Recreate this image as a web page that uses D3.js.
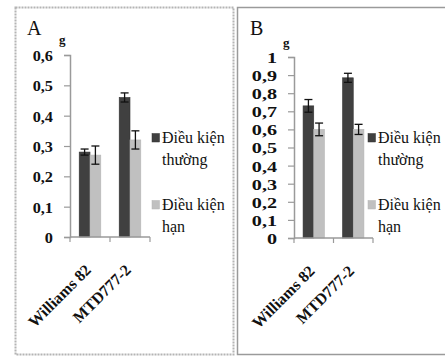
<!DOCTYPE html>
<html>
<head>
<meta charset="utf-8">
<script src="https://cdn.jsdelivr.net/npm/d3@7"></script>
<style>
  html, body { margin: 0; padding: 0; background: #fff; }
  svg { display: block; }
</style>
</head>
<body>
<svg id="chart" width="445" height="358"></svg>
<script>
// ---- data ----
const categories = ["Williams 82", "MTD777-2"];
const seriesKeys = ["normal", "drought"];
const legendLines = [["Điều kiện", "thường"], ["Điều kiện", "hạn"]];
const colors = ["#404040", "#c0c0c0"];

const panelANormal = [0.28, 0.46];
const panelANormalErr = [0.01, 0.015];
const panelADrought = [0.27, 0.32];
const panelADroughtErr = [0.03, 0.03];

const panelBNormal = [0.73, 0.885];
const panelBNormalErr = [0.035, 0.025];
const panelBDrought = [0.60, 0.60];
const panelBDroughtErr = [0.035, 0.028];

const ticksA = [0, 0.1, 0.2, 0.3, 0.4, 0.5, 0.6];
const tickLabelsA = ["0", "0,1", "0,2", "0,3", "0,4", "0,5", "0,6"];
const ticksB = [0, 0.1, 0.2, 0.3, 0.4, 0.5, 0.6, 0.7, 0.8, 0.9, 1];
const tickLabelsB = ["0", "0,1", "0,2", "0,3", "0,4", "0,5", "0,6", "0,7", "0,8", "0,9", "1"];

const FONT = '"Liberation Serif"';
const svg = d3.select("#chart");

// panel frames
svg.append("rect").attr("x", 15.5).attr("y", 7.5).attr("width", 218).attr("height", 347)
  .attr("fill", "none").attr("stroke", "#b4b4b4").attr("stroke-width", 2).attr("stroke-dasharray", "2,1");
svg.append("rect").attr("x", 237.5).attr("y", 7.5).attr("width", 220).attr("height", 347)
  .attr("fill", "none").attr("stroke", "#9a9a9a").attr("stroke-width", 1.5);

function panel(cfg) {
  const g = svg.append("g");
  const x = d3.scaleBand().domain(categories).range([cfg.x0, cfg.x1]).paddingInner(0.46).paddingOuter(0.23);
  const xs = d3.scaleBand().domain(seriesKeys).range([0, x.bandwidth()]);
  const y = d3.scaleLinear().domain([0, cfg.max]).range([cfg.yBottom, cfg.yTop]);

  const series = [
    { key: "normal", vals: cfg.normal, errs: cfg.normalErr },
    { key: "drought", vals: cfg.drought, errs: cfg.droughtErr }
  ];

  // y axis
  const yAxis = d3.axisLeft(y).tickValues(cfg.ticks).tickSize(6).tickFormat((d, i) => cfg.tickLabels[i]);
  const ya = g.append("g").attr("transform", `translate(${cfg.x0},0)`).call(yAxis);
  ya.select(".domain").attr("stroke", "#9a9a9a").attr("stroke-width", 1.5);
  ya.selectAll(".tick line").attr("stroke", "#9a9a9a").attr("stroke-width", 1.2);
  ya.selectAll(".tick text")
    .attr("x", 0).attr("dy", "0.35em")
    .style("font-family", FONT)
    .attr("font-size", 15.5).attr("font-weight", "bold").attr("fill", "#111")
    .attr("text-anchor", "end")
    .attr("transform", `translate(${-cfg.labelGap},0) scale(${cfg.tickScaleX},1)`);

  // bars
  series.forEach((s, si) => {
    g.selectAll(null).data(categories).enter().append("rect")
      .attr("x", c => x(c) + xs(s.key))
      .attr("y", (c, i) => y(s.vals[i]))
      .attr("width", xs.bandwidth())
      .attr("height", (c, i) => y(0) - y(s.vals[i]))
      .attr("fill", colors[si])
      .attr("stroke", si === 0 ? "#333" : "#b5b5b5").attr("stroke-width", 0.6);
  });

  // error bars
  series.forEach((s, si) => {
    categories.forEach((c, i) => {
      const cx = x(c) + xs(s.key) + xs.bandwidth() / 2;
      const lo = y(s.vals[i] - s.errs[i]), hi = y(s.vals[i] + s.errs[i]);
      g.append("line").attr("x1", cx).attr("x2", cx).attr("y1", lo).attr("y2", hi)
        .attr("stroke", "#111").attr("stroke-width", 1.3);
      [lo, hi].forEach(yy => g.append("line").attr("x1", cx - 4).attr("x2", cx + 4).attr("y1", yy).attr("y2", yy)
        .attr("stroke", "#111").attr("stroke-width", 1.3));
    });
  });

  // x axis line with ticks at band edges
  g.append("line").attr("x1", cfg.x0).attr("x2", cfg.x1).attr("y1", y(0)).attr("y2", y(0))
    .attr("stroke", "#9a9a9a").attr("stroke-width", 1.5);
  const edges = [cfg.x0, (cfg.x0 + cfg.x1) / 2, cfg.x1];
  edges.forEach(ex => g.append("line").attr("x1", ex).attr("x2", ex).attr("y1", y(0)).attr("y2", y(0) + 5)
    .attr("stroke", "#9a9a9a").attr("stroke-width", 1.2));

  // category labels
  g.selectAll(null).data(categories).enter().append("text")
    .attr("transform", c => `translate(${x(c) + x.bandwidth() / 2 + 2},${y(0) + 34}) rotate(-45)`)
    .attr("text-anchor", "end")
    .style("font-family", FONT)
    .attr("font-size", 16).attr("font-weight", "bold").attr("fill", "#111")
    .text(c => c);

  // panel letter and unit
  g.append("text").attr("x", cfg.letterX).attr("y", 35).style("font-family", FONT)
    .attr("font-size", 20).attr("fill", "#111").text(cfg.letter);
  g.append("text").attr("x", cfg.x0 - 11).attr("y", cfg.gY).style("font-family", FONT)
    .attr("font-size", 13).attr("font-weight", "bold").attr("fill", "#111").text("g");

  // legend
  const lg = g.append("g").attr("transform", `translate(${cfg.legendX},0)`);
  [[143, 165], [210, 232]].forEach((ys, si) => {
    lg.append("rect").attr("x", 0).attr("y", ys[0] - 9.5).attr("width", 7.5).attr("height", 8.5).attr("fill", colors[si])
      .attr("stroke", si === 0 ? "#333" : "#b5b5b5").attr("stroke-width", 0.5);
    legendLines[si].forEach((t, li) => {
      lg.append("text").attr("x", 10).attr("y", ys[li]).style("font-family", FONT)
        .attr("font-size", 16).attr("fill", "#111").text(t);
    });
  });
}

panel({
  x0: 70, x1: 150, yBottom: 237, yTop: 55, max: 0.6,
  ticks: ticksA, tickLabels: tickLabelsA, labelGap: 17, tickScaleX: 1.05,
  normal: panelANormal, normalErr: panelANormalErr,
  drought: panelADrought, droughtErr: panelADroughtErr,
  letter: "A", letterX: 27, gY: 44, legendX: 152
});

panel({
  x0: 294, x1: 373, yBottom: 238, yTop: 57, max: 1,
  ticks: ticksB, tickLabels: tickLabelsB, labelGap: 17, tickScaleX: 1.3,
  normal: panelBNormal, normalErr: panelBNormalErr,
  drought: panelBDrought, droughtErr: panelBDroughtErr,
  letter: "B", letterX: 250, gY: 47, legendX: 368
});
</script>
</body>
</html>
